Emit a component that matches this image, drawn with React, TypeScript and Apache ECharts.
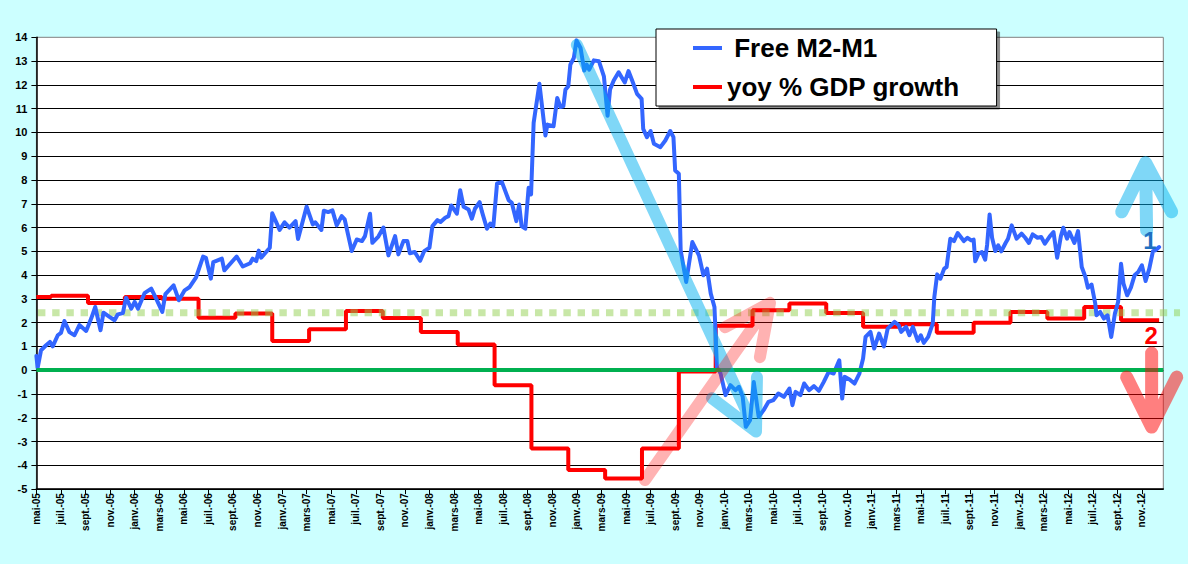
import React, { useEffect, useRef } from "react";
import * as echarts from "echarts";

// X axis: months since May 2005 (0 = mai-05). Tick labels every 2 months.
const tickLabels = [
  "mai-05", "juil.-05", "sept.-05", "nov.-05",
  "janv.-06", "mars-06", "mai-06", "juil.-06", "sept.-06", "nov.-06",
  "janv.-07", "mars-07", "mai-07", "juil.-07", "sept.-07", "nov.-07",
  "janv.-08", "mars-08", "mai-08", "juil.-08", "sept.-08", "nov.-08",
  "janv.-09", "mars-09", "mai-09", "juil.-09", "sept.-09", "nov.-09",
  "janv.-10", "mars-10", "mai-10", "juil.-10", "sept.-10", "nov.-10",
  "janv.-11", "mars-11", "mai-11", "juil.-11", "sept.-11", "nov.-11",
  "janv.-12", "mars-12", "mai-12", "juil.-12", "sept.-12", "nov.-12",
];

const X_MAX = 91.74;

// Free M2-M1 (month offset, value)
const m2m1Part1: [number, number][] = [
  [0, 0.6], [0.1, 0.1], [0.38, 0.84], [0.79, 1.05], [1.1, 1.19], [1.33, 1.0], [1.74, 1.47], [2.0, 1.57],
  [2.28, 2.07], [2.69, 1.6], [3.1, 1.47], [3.5, 1.9], [4.05, 1.65], [4.46, 2.17], [4.79, 2.66], [5.22, 1.68],
  [5.46, 2.42], [5.95, 2.24], [6.36, 2.1], [6.63, 2.35], [7.04, 2.4], [7.3, 3.05], [7.72, 2.59], [8.0, 2.87],
  [8.27, 2.59], [8.8, 3.24], [9.35, 3.43], [9.76, 3.0], [10.25, 2.45], [10.5, 3.2], [11.17, 3.57], [11.6, 2.94],
  [12.07, 3.36], [12.48, 3.5], [13.0, 3.9], [13.57, 4.78], [13.8, 4.73], [14.2, 3.85], [14.4, 4.55], [15.1, 4.69],
  [15.3, 4.2], [16.3, 4.78], [16.8, 4.36], [17.4, 4.5], [17.6, 4.69], [17.9, 4.59], [18.1, 5.03], [18.3, 4.73],
  [19.0, 5.15], [19.2, 6.6], [19.8, 5.9], [20.2, 6.22], [20.6, 6.0], [21.1, 6.27], [21.3, 5.52], [22.0, 6.88],
  [22.5, 6.13], [22.7, 6.22], [23.2, 5.9], [23.4, 6.71], [23.75, 6.65],
];
const m2m1Part2: [number, number][] = [
  [24.1, 6.72], [24.45, 6.09], [24.85, 6.48], [25.1, 6.34], [25.67, 5.01], [26.08, 5.5], [26.5, 5.43], [26.75, 5.64],
  [27.16, 6.58], [27.35, 5.36], [27.84, 5.62], [28.25, 6.0], [28.66, 4.83], [29.2, 5.64], [29.47, 4.87], [29.88, 5.43],
  [30.2, 5.43], [30.4, 4.92], [30.8, 4.97], [31.24, 4.6], [31.57, 5.01], [32.0, 5.15], [32.24, 6.06], [32.65, 6.31],
  [32.9, 6.23], [33.28, 6.41], [33.55, 6.48], [33.77, 6.93], [34.23, 6.58], [34.5, 7.57], [34.78, 6.87], [35.18, 6.76],
  [35.45, 6.37], [35.7, 6.79], [36.08, 7.07], [36.26, 6.69], [36.68, 5.95], [36.95, 6.17], [37.2, 6.06], [37.5, 7.85],
  [37.9, 7.91], [38.45, 7.15], [38.7, 7.04], [39.07, 6.27], [39.3, 6.97], [39.5, 6.06], [39.8, 5.95], [40.07, 7.67],
  [40.27, 7.39], [40.48, 10.4], [40.95, 12.05], [41.44, 9.87], [41.6, 10.33], [42.1, 10.26], [42.4, 11.45], [42.66, 11.07],
  [42.9, 11.1], [43.07, 11.8], [43.3, 11.94], [43.47, 12.85], [43.75, 13.13], [43.97, 13.87], [44.3, 13.55], [44.6, 12.6],
  [44.8, 12.85], [45.0, 12.64], [45.38, 13.03], [45.8, 12.99], [46.2, 12.36], [46.5, 10.7], [46.7, 11.8],
];
const m2m1Part3: [number, number][] = [
  [47.0, 12.18], [47.4, 12.53], [47.9, 12.1], [48.2, 12.58], [48.5, 12.18], [48.9, 11.62], [49.27, 11.41], [49.4, 10.15],
  [49.7, 9.8], [50.0, 10.06], [50.27, 9.52], [50.8, 9.38], [51.2, 9.66], [51.6, 10.06], [51.86, 9.8], [52.0, 8.4],
  [52.3, 8.26], [52.45, 5.04], [52.9, 3.71], [53.4, 5.39], [53.94, 4.83], [54.3, 3.99], [54.6, 4.27], [54.9, 3.22],
  [55.2, 2.66], [55.4, 0.14], [55.7, -0.14], [56.1, -1.05], [56.5, -0.63], [56.9, -0.84], [57.2, -0.7], [57.5, -1.12],
  [57.75, -2.38], [58.1, -2.1], [58.4, -0.5], [58.8, -1.96], [59.2, -1.68], [59.6, -1.33], [60.0, -1.26], [60.4, -0.98],
  [60.85, -1.12], [61.3, -0.77], [61.55, -1.47], [61.8, -0.91], [62.2, -1.05], [62.5, -0.56], [62.9, -0.84], [63.3, -0.67],
  [63.7, -0.87], [64.1, -0.49], [64.5, -0.07], [64.9, -0.14], [65.36, 0.42], [65.6, -1.19], [65.8, -0.28], [66.2, -0.39],
  [66.6, -0.56], [67.0, -0.14], [67.3, 0.49], [67.5, 1.4], [67.9, 1.61], [68.2, 0.91], [68.6, 1.54], [69.0, 1.0],
  [69.3, 1.75], [69.86, 2.03], [70.2, 1.89],
];
const m2m1Part4: [number, number][] = [
  [70.4, 1.61], [70.8, 1.82], [71.07, 1.47], [71.35, 1.82], [71.75, 1.23], [72.0, 1.47], [72.24, 1.15], [72.6, 1.4],
  [72.97, 1.96], [73.1, 3.08], [73.33, 4.03], [73.6, 3.85], [73.9, 4.27], [74.1, 4.34], [74.4, 5.53], [74.7, 5.43],
  [75.0, 5.77], [75.3, 5.57], [75.5, 5.43], [75.8, 5.57], [76.1, 5.46], [76.3, 5.49], [76.43, 4.58], [76.7, 4.9],
  [76.97, 4.97], [77.24, 4.65], [77.4, 5.29], [77.6, 6.55], [77.8, 5.57], [78.06, 5.01], [78.3, 5.25], [78.55, 5.0],
  [78.9, 5.35], [79.1, 5.53], [79.4, 6.09], [79.8, 5.53], [80.2, 5.74], [80.5, 5.57], [80.8, 5.35], [81.1, 5.71],
  [81.5, 5.57], [81.8, 5.6], [82.1, 5.32], [82.5, 5.63], [82.8, 5.81], [83.1, 4.73], [83.4, 5.63], [83.6, 5.99],
  [83.9, 5.53], [84.1, 5.81], [84.5, 5.35], [84.8, 5.85], [85.1, 4.34], [85.4, 3.92], [85.6, 3.47], [85.9, 3.6],
  [86.2, 2.8], [86.3, 2.31], [86.6, 2.45], [86.9, 2.17], [87.2, 2.31], [87.5, 1.4], [87.8, 2.38], [88.06, 2.87],
  [88.3, 4.48], [88.5, 3.64], [88.8, 3.15], [89.1, 3.47], [89.4, 3.99], [89.7, 4.13], [90.0, 4.41], [90.3, 3.75],
  [90.6, 4.27], [90.9, 5.01], [91.1, 5.04], [91.4, 5.18],
];

// yoy % GDP growth, quarterly steps (month offset where the quarter value starts, value)
const gdpGrowth: [number, number][] = [
  [0, 3.08], [1.2, 3.13], [4.2, 2.83], [7.2, 3.08], [10.2, 3.0], [13.2, 2.21], [16.2, 2.38], [19.2, 1.23],
  [22.2, 1.72], [25.2, 2.49], [28.2, 2.2], [31.3, 1.61], [34.3, 1.08], [37.3, -0.63], [40.3, -3.29], [43.3, -4.2],
  [46.3, -4.55], [49.3, -3.29], [52.3, -0.05], [55.3, 1.87], [58.3, 2.52], [61.3, 2.8], [64.3, 2.41], [67.3, 1.83],
  [70.3, 1.93], [73.3, 1.58], [76.3, 2.0], [79.3, 2.45], [82.3, 2.17], [85.3, 2.66], [88.3, 2.1], [91.4, 2.1],
];

const referenceLevel = 2.42; // dotted light-green level

const FONT = "'Liberation Sans', Arial, sans-serif";

type Pt = [number, number];
interface Arrow { tail: Pt; tip: Pt; wingA: Pt; wingB: Pt; color: string; width: number; }

// Annotation arrows, in data space (months, %)
const arrows: Arrow[] = [
  { tail: [44.0, 13.68], tip: [58.58, -2.58], wingA: [55.0, -1.18], wingB: [58.66, -0.29], color: "rgba(0,176,240,0.5)", width: 12 },
  { tail: [49.54, -4.62], tip: [59.72, 2.83], wingA: [56.06, 1.81], wingB: [58.9, 0.55], color: "rgba(255,0,0,0.3)", width: 12 },
  { tail: [90.38, 5.89], tip: [90.3, 8.72], wingA: [88.35, 6.66], wingB: [92.42, 6.66], color: "rgba(0,176,240,0.5)", width: 13 },
  { tail: [90.79, 0.72], tip: [90.79, -2.39], wingA: [88.76, -0.29], wingB: [92.83, -0.29], color: "rgba(255,0,0,0.5)", width: 13 },
];

const noteLabels = [
  { text: "1", at: [90.65, 5.45] as Pt, color: "#1F70C1" },
  { text: "2", at: [90.75, 1.46] as Pt, color: "#FF0000" },
];

export default function App() {
  const ref = useRef<HTMLDivElement>(null);

  useEffect(() => {
    if (!ref.current) return;
    const chart = echarts.init(ref.current, null, { renderer: "svg" });
    const blue = [...m2m1Part1, ...m2m1Part2, ...m2m1Part3, ...m2m1Part4];

    chart.setOption({
      animation: false,
      backgroundColor: "#CCFFFF",
      textStyle: { fontFamily: FONT },
      grid: {
        left: 36.4,
        top: 37.3,
        right: 24.7,
        bottom: 74.9,
        show: true,
        backgroundColor: "#FFFFFF",
        borderColor: "#808080",
        borderWidth: 1,
        outerBoundsMode: "none",
      },
      legend: {
        data: ["Free M2-M1", "yoy % GDP growth"],
        orient: "vertical",
        left: 656,
        top: 29,
        padding: [4, 37, 4, 37],
        itemWidth: 29,
        itemHeight: 4,
        itemGap: 9,
        icon: "rect",
        selectedMode: false,
        backgroundColor: "#FFFFFF",
        borderColor: "#000000",
        borderWidth: 1,
        shadowColor: "rgba(0,0,0,0.45)",
        shadowBlur: 1,
        shadowOffsetX: 3,
        shadowOffsetY: 3,
        formatter: (n: string) => (n === "Free M2-M1" ? "\u00a0" + n : n),
        textStyle: { fontSize: 26, fontWeight: "bold", color: "#000", fontFamily: FONT, lineHeight: 30 },
      },
      xAxis: {
        type: "value",
        min: 0,
        max: X_MAX,
        interval: 2,
        axisLine: { onZero: false, lineStyle: { color: "#000", width: 1.5 } },
        axisTick: { show: true, length: 5, lineStyle: { color: "#000" } },
        splitLine: { show: false },
        axisLabel: {
          rotate: 90,
          margin: 4,
          fontSize: 10,
          fontWeight: "bold",
          color: "#000",
          fontFamily: FONT,
          showMaxLabel: false,
          formatter: (v: number) => {
            const i = v / 2;
            return Number.isInteger(i) && tickLabels[i] ? tickLabels[i] : "";
          },
        },
      },
      yAxis: {
        type: "value",
        min: -5,
        max: 14,
        interval: 1,
        axisLine: { show: true, onZero: false, lineStyle: { color: "#000", width: 1.5 } },
        axisTick: { show: true, length: 5, lineStyle: { color: "#000" } },
        splitLine: { show: true, showMaxLine: false, lineStyle: { color: "#000", width: 1 } },
        axisLabel: { fontSize: 11, fontWeight: "bold", color: "#000", margin: 9, fontFamily: FONT },
      },
      series: [
        {
          name: "yoy % GDP growth",
          type: "line",
          step: "end",
          data: gdpGrowth,
          symbol: "none",
          z: 2,
          color: "#FF0000",
          lineStyle: { color: "#FF0000", width: 4 },
          silent: true,
          markLine: {
            silent: true,
            symbol: "none",
            label: { show: false },
            lineStyle: { color: "#00B050", width: 4, type: "solid" },
            data: [{ yAxis: 0 }],
          },
        },
        {
          name: "Free M2-M1",
          type: "line",
          data: blue,
          symbol: "none",
          z: 4,
          color: "#3366FF",
          lineStyle: { color: "#3366FF", width: 4, join: "round", cap: "round" },
          silent: true,
        },
      ],
    });

    const px = (p: Pt) => chart.convertToPixel({ gridIndex: 0 }, p) as number[];
    const elements: any[] = [];
    const d0 = px([0.13, referenceLevel]);
    const d1 = px([93.1, referenceLevel]);
    elements.push({
      type: "line",
      z: 3,
      silent: true,
      shape: { x1: d0[0], y1: d0[1], x2: d1[0], y2: d1[1] },
      style: { stroke: "rgba(146,208,80,0.5)", lineWidth: 7, lineDash: [7.4, 6.8] },
    });
    for (const a of arrows) {
      elements.push({
        type: "polyline",
        z: 10,
        silent: true,
        shape: { points: [px(a.tail), px(a.tip), px(a.wingA), px(a.tip), px(a.wingB)] },
        style: { stroke: a.color, fill: "none", lineWidth: a.width, lineCap: "round", lineJoin: "round" },
      });
    }
    for (const l of noteLabels) {
      const p = px(l.at);
      elements.push({
        type: "text",
        z: 11,
        silent: true,
        x: p[0],
        y: p[1],
        style: {
          text: l.text,
          fill: l.color,
          font: `bold 24px ${FONT}`,
          align: "center",
          verticalAlign: "middle",
          textAlign: "center",
          textVerticalAlign: "middle",
        },
      });
    }
    chart.setOption({ graphic: { elements } });

    return () => chart.dispose();
  }, []);

  return (
    <div
      ref={ref}
      style={{ position: "fixed", left: 0, top: 0, width: 1188, height: 564, background: "#CCFFFF" }}
    />
  );
}
